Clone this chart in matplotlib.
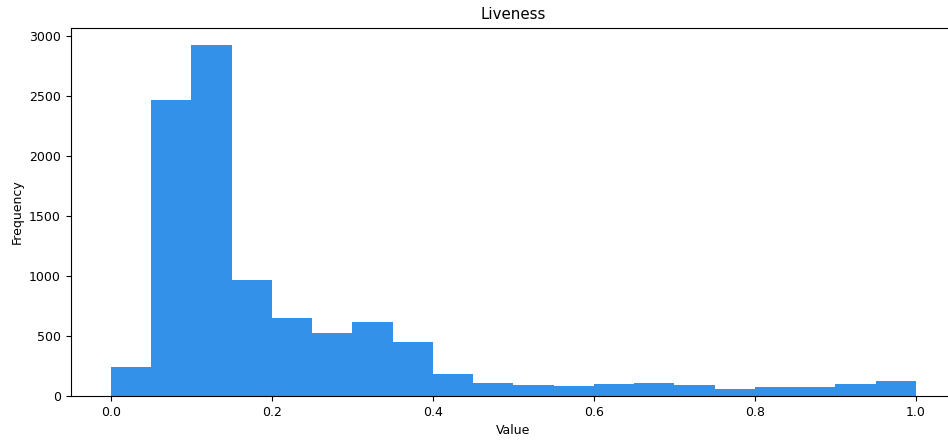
import numpy as np
import matplotlib
matplotlib.use("Agg")
import matplotlib.pyplot as plt

# bin edges of the liveness histogram (20 bins from 0 to 1)
bin_edges = np.linspace(0, 1, 21)

# counts
counts = [242, 2467, 2922, 964, 647, 528, 614, 447, 186, 112,
          89, 81, 97, 112, 89, 56, 72, 72, 97, 128]

bin_centers = (bin_edges[:-1] + bin_edges[1:]) / 2

# text in the reference is a bit smaller than the default
plt.rcParams['font.size'] = 9

fig = plt.figure(figsize=(9.48, 4.41), dpi=100)
# the axes runs past the right edge of the figure, like in the reference
ax = fig.add_axes([0.0746, 0.102, 0.934, 0.835])

ax.hist(bin_centers, bins=bin_edges, weights=counts, color='#3391e9')
ax.set_title('Liveness')
ax.set_xlabel('Value')
ax.set_ylabel('Frequency')

fig.savefig('out.png', dpi=100)
